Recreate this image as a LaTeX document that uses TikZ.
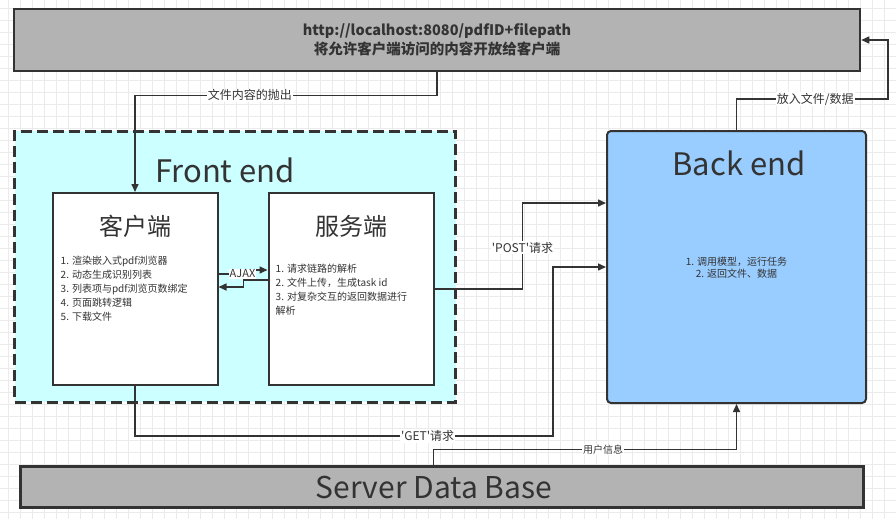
\documentclass[tikz,border=0pt]{standalone}
\usepackage{fontspec}
\setmainfont{Noto Sans CJK SC}[Ligatures=TeXOff]
\usetikzlibrary{arrows.meta,calc,positioning}

\definecolor{inkgray}{HTML}{333333}
\definecolor{boxgray}{HTML}{B3B3B3}
\definecolor{frontcyan}{HTML}{CCFFFF}
\definecolor{backblue}{HTML}{99CCFF}
\definecolor{gridgray}{HTML}{EBEBEB}

\begin{document}
\begin{tikzpicture}[
    x=1pt, y=-1pt,
    >={Triangle[length=8pt,width=7pt]},
    every node/.style={text=inkgray},
    graybox/.style={draw=inkgray, fill=boxgray, line width=2.5pt},
    frontbox/.style={draw=inkgray, fill=frontcyan, line width=3pt, dash pattern=on 11pt off 5pt},
    subbox/.style={draw=inkgray, fill=white, line width=2pt, minimum width=165pt, minimum height=192pt},
    backbox/.style={draw=inkgray, fill=backblue, line width=2pt, rounded corners=4pt},
    bigtitle/.style={font=\fontsize{31}{36}\selectfont},
    subtitle/.style={inner sep=0pt, font=\fontsize{24}{28}\selectfont},
    listtext/.style={inner sep=0pt, align=left, font=\fontsize{10}{14}\selectfont},
    conn/.style={->, draw=inkgray, line width=1.5pt},
    lbl/.style={fill=white, inner sep=1pt, font=\fontsize{12}{14}\selectfont},
    gridline/.style={draw=gridgray, line width=0.8pt}
]
	\useasboundingbox (0,0) rectangle (896,519);
	\fill[white] (0,0) rectangle (896,519);
	\foreach \gx in {8,20,...,896} \draw[gridline] (\gx,0) -- (\gx,519);
	\foreach \gy in {8,20,...,519} \draw[gridline] (0,\gy) -- (896,\gy);

	% boxes
	\node[graybox, minimum width=846pt, minimum height=62pt, align=center,
	      font=\bfseries\fontsize{14.5}{19}\selectfont] (url) at (437,40)
	      {http://localhost:8080/pdfID+filepath\\将允许客户端访问的内容开放给客户端};
	\node[frontbox, minimum width=441pt, minimum height=271pt] (front) at (235,266.5) {};
	\node[bigtitle] (fronttitle) at (225,170) {Front end};
	\node[subbox] (client) at (135,289) {};
	\node[subbox] (server) [right=49pt of client] {};
	\node[backbox, minimum width=259pt, minimum height=272pt] (back) at (736.5,267) {};
	\node[bigtitle] (backtitle) at (739,163) {Back end};
	\node[graybox, line width=3pt, minimum width=843pt, minimum height=41pt] (db) at (441.5,486.5) {};
	\node[bigtitle, font=\fontsize{30}{36}\selectfont] (dbtitle) at (434,487) {Server Data Base};

	% titles and lists
	\node[subtitle] (clienttitle) [below=23pt of client.north] {客户端};
	\node[subtitle] (servertitle) [below=23pt of server.north] {服务端};
	\node[listtext, anchor=north west] (clientlist) [below right=64pt and 9pt of client.north west]
	    {1. 渲染嵌入式pdf浏览器\\2. 动态生成识别列表\\3. 列表项与pdf浏览页数绑定\\4. 页面跳转逻辑\\5. 下载文件};
	\node[listtext, anchor=north west] (serverlist) [below right=72pt and 8pt of server.north west]
	    {1. 请求链路的解析\\2. 文件上传，生成task id\\3. 对复杂交互的返回数据进行\\解析};
	\node[listtext, align=center, font=\fontsize{10}{12}\selectfont] (backlist) at ($(back.center)+(0,1)$)
	    {1. 调用模型，运行任务\\2. 返回文件、数据};

	% connectors
	\coordinate (getturn) at (553,436);
	\coordinate (putturn) at (888,99);
	\draw[conn] (url.south) -- ++(0,23) -| node[lbl, pos=0.31] {文件内容的抛出} (client.north);
	\draw[conn] ($(client.east)+(0,-15)$) -- node[lbl, pos=0.75, font=\fontsize{11}{13}\selectfont] {AJAX} ++(32,0)
	    |- ($(server.west)+(0,-19)$);
	\draw[conn] ($(server.west)+(0,-9)$) -- ++(-24,0) |- ($(client.east)+(0,-2)$);
	\draw[conn] (server.east) -- ++(88,0) |- node[lbl, pos=0.24] {'POST'请求} ($(back.west)+(0,-64)$);
	\draw[conn] (client.south) |- node[lbl, pos=0.85] {'GET'请求} (getturn) |- (back.west);
	\draw[conn] ($(db.north)+(-8,0)$) -- ++(0,-15) -| node[lbl, pos=0.28, font=\fontsize{10}{12}\selectfont] {用户信息} (back.south);
	\draw[conn] (back.north) |- node[lbl, pos=0.76] {放入文件/数据} (putturn) |- (url.east);
\end{tikzpicture}
\end{document}
